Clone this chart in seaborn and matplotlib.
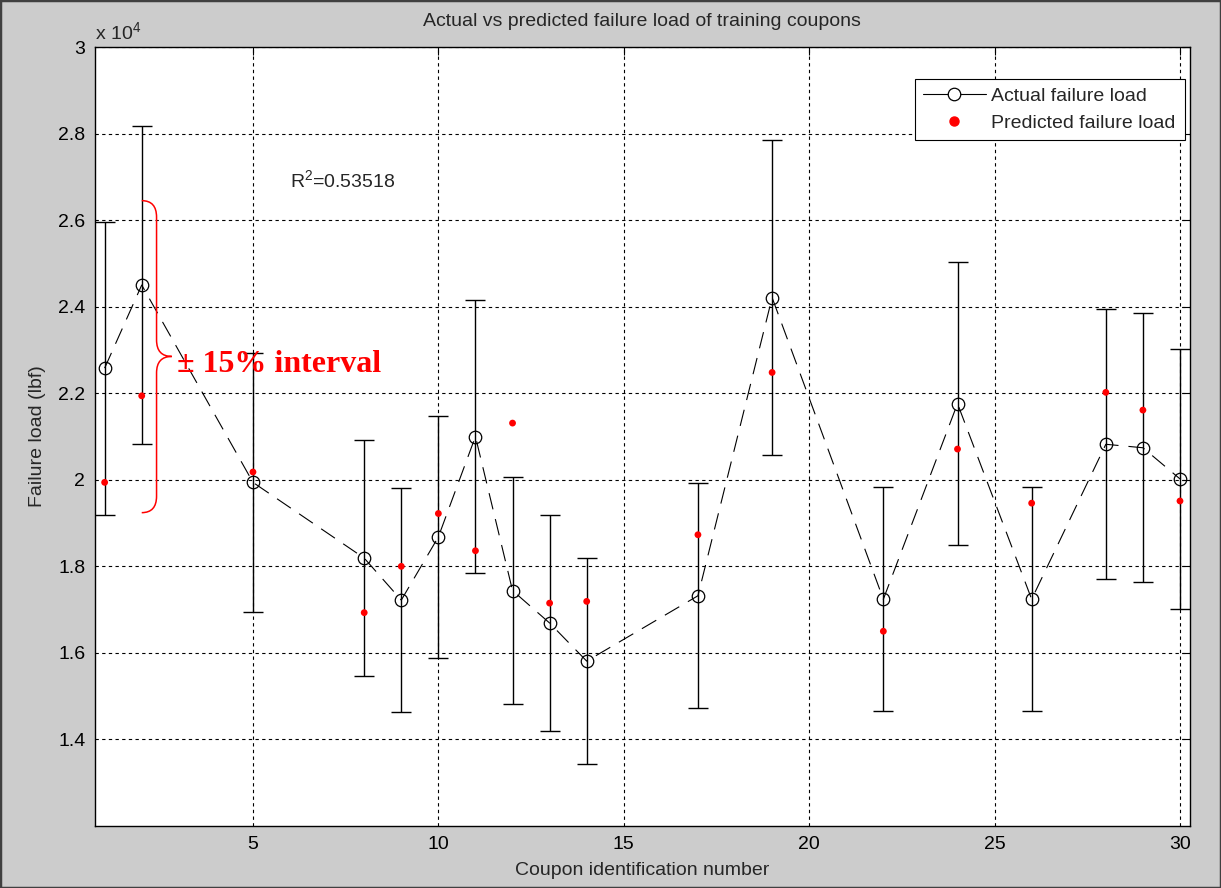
import matplotlib
matplotlib.use("Agg")
import matplotlib.pyplot as plt
from matplotlib.lines import Line2D
from matplotlib.path import Path
from matplotlib.patches import PathPatch, Rectangle
from matplotlib.ticker import FuncFormatter
import pandas as pd
import seaborn as sns

# Coupon data (failure load in lbf)
coupon_ids = [1, 2, 5, 8, 9, 10, 11, 12, 13, 14, 17, 19, 22, 24, 26, 28, 29, 30]
actual_load = [22580, 24500, 19940, 18190, 17220, 18680, 21000, 17440, 16690,
               15810, 17320, 24210, 17240, 21760, 17240, 20820, 20740, 20020]
predicted_load = [19940, 21940, 20180, 16930, 18000, 19220, 18360, 21310, 17150,
                  17190, 18730, 22480, 16500, 20710, 19460, 22020, 21610, 19510]
interval_frac = 0.15
r_squared = "0.53518"
x_ticks = [5, 10, 15, 20, 25, 30]
y_ticks = [14000, 16000, 18000, 20000, 22000, 24000, 26000, 28000, 30000]

sns.set_style("white")
plt.rcParams["font.family"] = ["Liberation Sans", "DejaVu Sans"]
plt.rcParams["mathtext.fontset"] = "custom"
plt.rcParams["mathtext.rm"] = "Liberation Sans"
plt.rcParams["mathtext.it"] = "Liberation Sans:italic"

FS = 14

df = pd.DataFrame({"coupon": coupon_ids, "actual": actual_load,
                   "predicted": predicted_load})
df["err"] = df["actual"] * interval_frac

W, H = 1221, 888
fig = plt.figure(figsize=(W / 100, H / 100), dpi=100, facecolor="#cccccc")
ax = fig.add_axes([95 / W, 1 - 826 / H, 1095 / W, 779 / H])
ax.set_facecolor("white")

# +/-15% interval around each actual value
ax.errorbar(df["coupon"], df["actual"], yerr=df["err"], fmt="none",
            ecolor="black", elinewidth=1.0, capsize=7.5, capthick=1.0, zorder=3)

sns.lineplot(data=df, x="coupon", y="actual", ax=ax, color="black",
             linewidth=0.8, linestyle=(0, (15, 9)), marker="o", markersize=9,
             markerfacecolor="none", markeredgecolor="black",
             markeredgewidth=0.9, zorder=4)
sns.scatterplot(data=df, x="coupon", y="predicted", ax=ax, color="red", s=24,
                edgecolor="none", marker="o", zorder=5)

ax.set_xlim(0.74, 30.27)
ax.set_ylim(12000, 30000)
ax.set_xticks(x_ticks)
ax.set_yticks(y_ticks)
ax.yaxis.set_major_formatter(FuncFormatter(lambda v, p: f"{v / 1e4:g}"))
ax.grid(True, color="black", linestyle=(0, (3, 3)), linewidth=0.8)
ax.set_axisbelow(True)
for sp in ax.spines.values():
    sp.set_visible(True)
    sp.set_color("black")
    sp.set_linewidth(1.0)
ax.tick_params(direction="in", length=6, width=0.8, top=True, right=True,
               labelsize=FS, pad=7, colors="black")

ax.set_xlabel("Coupon identification number", fontsize=FS)
ax.set_ylabel("Failure load (lbf)", fontsize=FS)
ax.xaxis.set_label_coords(0.5, (826 - 870) / 779)
ax.xaxis.label.set_va("center")
ax.yaxis.set_label_coords((37 - 95) / 1095, 0.5)
ax.yaxis.label.set_va("center")

fig.text(642 / W, 1 - 22 / H, "Actual vs predicted failure load of training coupons",
         ha="center", va="center", fontsize=FS)
fig.text(95 / W, 1 - 32 / H, "x 10$^4$", ha="left", va="center", fontsize=FS)

ax.text(6.0, 26930, "R$^2$=" + r_squared, ha="left", va="center", fontsize=FS)

# legend
h_actual = Line2D([], [], color="black", lw=0.8, marker="o", ms=9,
                  mfc="white", mec="black", mew=0.9)
h_pred = Line2D([], [], color="red", lw=0, marker="o", ms=6.5,
                mfc="red", mec="red")
leg = ax.legend([h_actual, h_pred], ["Actual failure load", "Predicted failure load"],
                loc="upper right", bbox_to_anchor=(0.995, 0.959), borderaxespad=0,
                frameon=True, fancybox=False, edgecolor="black", framealpha=1,
                fontsize=FS, handlelength=3.2, handletextpad=0.3, borderpad=0.45,
                labelspacing=0.45)
leg.get_frame().set_linewidth(0.8)

# curly brace marking the interval of coupon 2
x0, xm, xt = 2.0, 2.40, 2.81
yt, yb, ymid, r = 26450, 19240, 22850, 380
verts = [(x0, yt), (xm, yt), (xm, yt - r),
         (xm, ymid + r),
         (xm, ymid), (xt, ymid),
         (xm, ymid), (xm, ymid - r),
         (xm, yb + r),
         (xm, yb), (x0, yb)]
codes = [Path.MOVETO, Path.CURVE3, Path.CURVE3,
         Path.LINETO,
         Path.CURVE3, Path.CURVE3,
         Path.CURVE3, Path.CURVE3,
         Path.LINETO,
         Path.CURVE3, Path.CURVE3]
ax.add_patch(PathPatch(Path(verts, codes), facecolor="none", edgecolor="red",
                       linewidth=1.1, zorder=6))
ax.text(2.95, 22660, "± 15% interval", color="red", fontsize=23,
        fontweight="bold", family=["Liberation Serif", "DejaVu Serif"],
        ha="left", va="center", zorder=6)

fig.add_artist(Rectangle((0, 0), 1, 1, transform=fig.transFigure,
                         facecolor="none", edgecolor="#404040", linewidth=2.5))

fig.savefig("out.png", dpi=100, facecolor=fig.get_facecolor())
